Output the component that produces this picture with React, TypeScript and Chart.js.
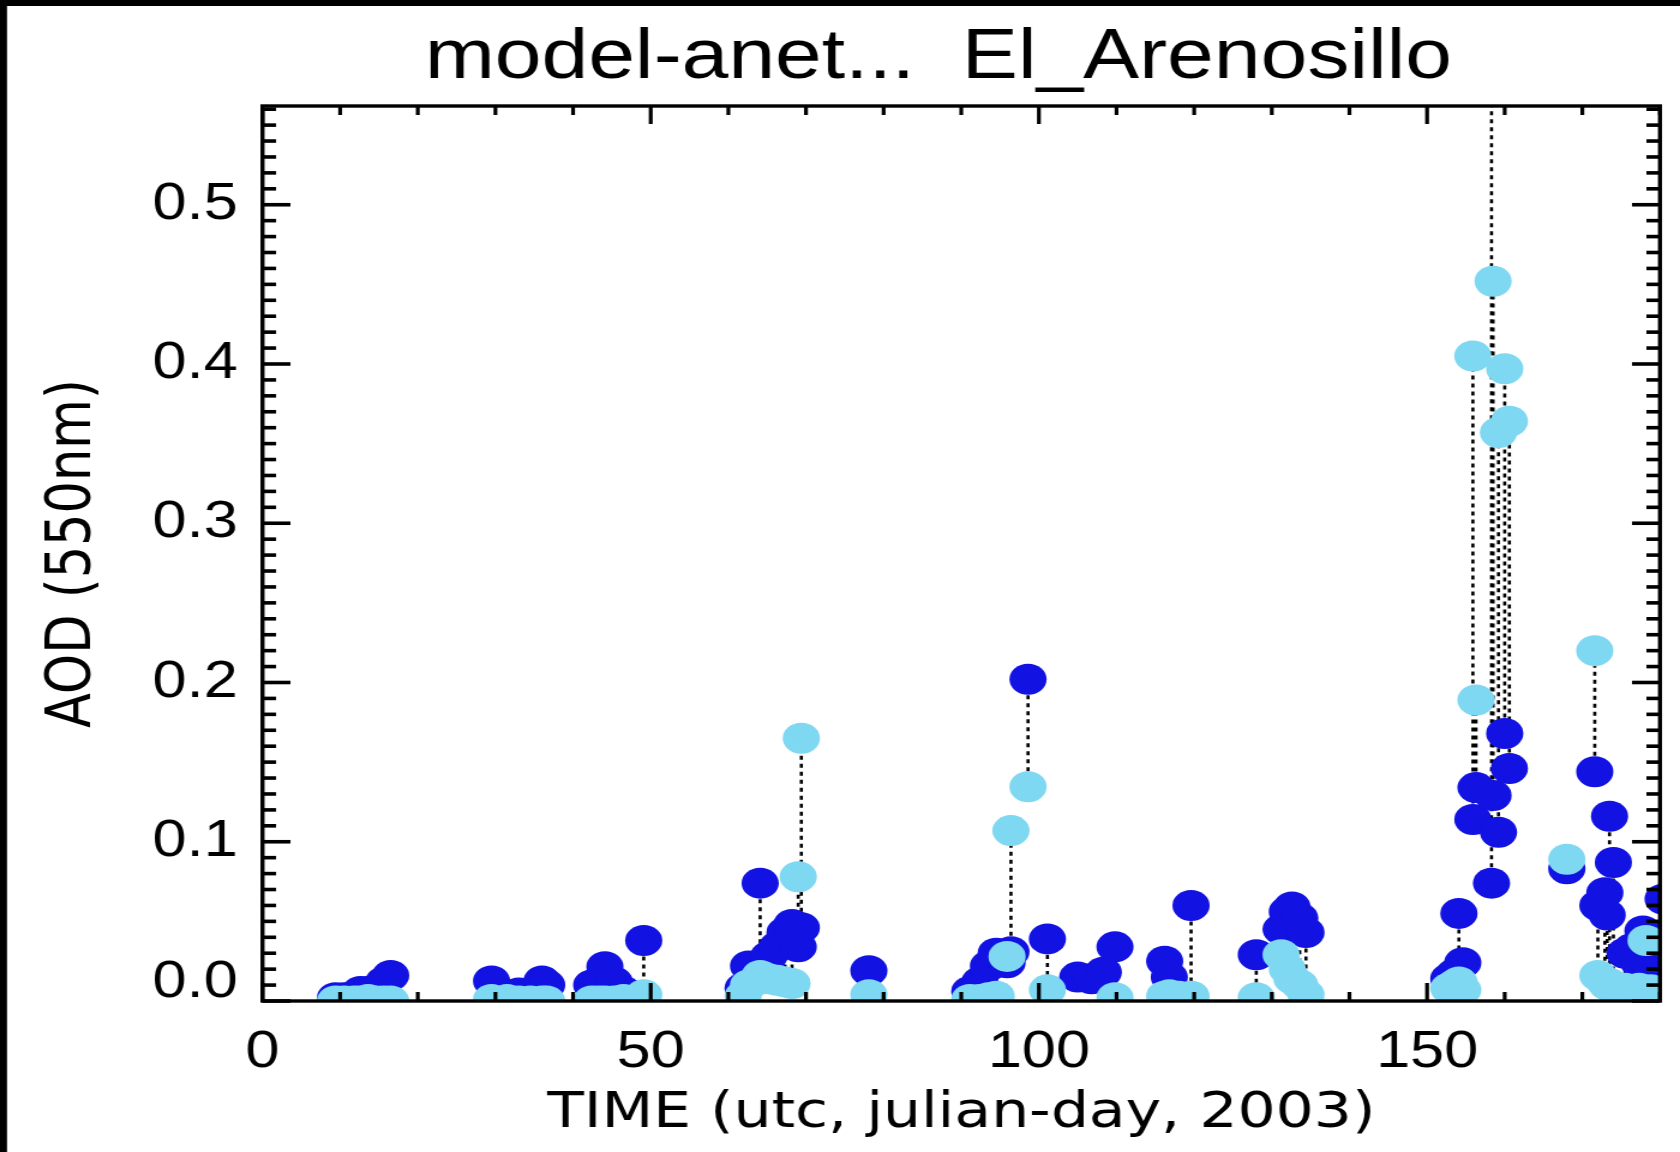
import React, { useEffect, useRef } from 'react';
import { Chart, registerables } from 'chart.js';

Chart.register(...registerables);

// ---------- text ----------
const TITLE = 'model-anet...  El_Arenosillo';
const X_TITLE = 'TIME (utc, julian-day, 2003)';
const Y_TITLE = 'AOD (550nm)';

// ---------- axes ----------
const X_MIN = 0;
const X_MAX = 180;
const Y_MIN = 0;
const Y_MAX = 0.562;
const X_TICKS = [0, 50, 100, 150];
const Y_TICKS = [0, 0.1, 0.2, 0.3, 0.4, 0.5];
const X_MINOR_STEP = 10;
const Y_MINOR_STEP = 0.01;

// ---------- data (julian day, model AOD, AERONET AOD) ----------
const DAYS = [
  9.4, 10.5, 11.8, 12.6, 13.6, 14.6, 15.6, 16.5,
  29.5, 31.5, 33.0, 34.5, 36.0, 36.6,
  42.4, 43.3, 44.1, 45.3, 46.5, 49.1,
  61.9, 62.6, 64.1, 65.2, 66.3, 67.3, 68.2, 69.0, 69.4,
  78.1,
  91.1, 92.4, 93.5, 94.5, 95.9, 96.4, 98.6, 101.1, 105.0, 106.8, 108.3, 109.8,
  116.2, 116.8, 118.0, 119.6,
  128.0, 131.2, 132.0, 132.6, 133.6, 134.4,
  152.8, 153.5, 154.1, 154.6, 155.9, 156.3, 158.3, 158.5, 159.2, 160.0, 160.6,
  168.0, 171.6, 172.0, 172.9, 173.2, 173.5, 174.0, 175.5, 176.4, 177.3, 177.8, 178.2, 178.8, 180.4,
];
const MODEL = [
  0.002, 0.002, 0.003, 0.006, 0.006, 0.007, 0.012, 0.016,
  0.0126, 0.004, 0.005, 0.004, 0.0126, 0.010,
  0.010, 0.012, 0.0215, 0.012, 0.006, 0.038,
  0.008, 0.022, 0.074, 0.028, 0.034, 0.043, 0.048, 0.034, 0.046,
  0.019,
  0.006, 0.012, 0.022, 0.030, 0.024, 0.031, 0.202, 0.039, 0.015, 0.014, 0.018, 0.034,
  0.025, 0.015, 0.004, 0.060,
  0.029, 0.045, 0.056, 0.059, 0.052, 0.043,
  0.014, 0.017, 0.055, 0.024, 0.114, 0.134, 0.074, 0.129, 0.106, 0.168, 0.146,
  0.083, 0.144, 0.060, 0.068, 0.054, 0.116, 0.087, 0.030, 0.033, 0.024, 0.044, 0.030, 0.018, 0.064,
];
const AERONET = [
  0.0, 0.0, 0.0, 0.0, 0.001, 0.0, 0.0, 0.0,
  0.001, 0.001, 0.0, 0.0, 0.0, 0.0,
  0.0, 0.0, 0.0, 0.0, 0.001, 0.004,
  0.003, 0.010, 0.016, 0.014, 0.013, 0.012, 0.011, 0.078, 0.165,
  0.004,
  0.001, 0.001, 0.002, 0.003, 0.028, 0.107, 0.1345, 0.007, null, null, null, 0.002,
  0.003, 0.004, 0.003, 0.003,
  0.002, 0.029, 0.020, 0.014, 0.010, 0.004,
  0.008, 0.010, 0.012, 0.007, 0.405, 0.189, 0.700, 0.452, 0.357, 0.397, 0.364,
  0.089, 0.220, 0.016, 0.012, 0.010, 0.011, 0.009, 0.008, 0.006, 0.008, null, 0.038, 0.007, null,
];

// ---------- style ----------
const FONT = '"Liberation Sans", Arial, Helvetica, sans-serif';
const TITLE_FONT = '"DejaVu Sans", "Liberation Sans", sans-serif';
const MODEL_COLOR = '#1212e2';
const AERONET_COLOR = '#7fd8f2';
const CANVAS_W = 1400; // drawn width, shown stretched to 1680
const CANVAS_H = 1152;
const SHOW_W = 1680;

const decorPlugin = {
  id: 'decor',
  beforeDraw(chart: any) {
    const { ctx, width, height } = chart;
    ctx.save();
    ctx.fillStyle = '#ffffff';
    ctx.fillRect(0, 0, width, height);
    ctx.fillStyle = '#000000';
    ctx.fillRect(0, 0, width, 6);
    ctx.fillRect(0, 0, 5.8, height);
    ctx.restore();
  },
  afterDatasetsDraw(chart: any) {
    const { ctx, chartArea: a } = chart;
    const xs = chart.scales.x;
    const ys = chart.scales.y;
    ctx.save();
    ctx.strokeStyle = '#000';
    ctx.lineCap = 'butt';
    const seg = (x1: number, y1: number, x2: number, y2: number) => {
      ctx.beginPath();
      ctx.moveTo(x1, y1);
      ctx.lineTo(x2, y2);
      ctx.stroke();
    };
    // x ticks (bottom and top, pointing inward)
    ctx.lineWidth = 3.2;
    const nx = Math.round((X_MAX - X_MIN) / X_MINOR_STEP);
    for (let i = 0; i <= nx; i++) {
      const v = X_MIN + i * X_MINOR_STEP;
      const px = xs.getPixelForValue(v);
      const major = X_TICKS.indexOf(v) >= 0;
      const len = major ? 18 : 9;
      seg(px, a.bottom, px, a.bottom - len);
      seg(px, a.top, px, a.top + len);
    }
    // y ticks (left and right, pointing inward)
    ctx.lineWidth = 3.6;
    const ny = Math.floor((Y_MAX - Y_MIN) / Y_MINOR_STEP + 1e-6);
    for (let i = 0; i <= ny; i++) {
      const v = Y_MIN + i * Y_MINOR_STEP;
      const py = ys.getPixelForValue(v);
      const major = i % 10 === 0;
      const len = major ? 23.3 : 11.3;
      seg(a.left, py, a.left + len, py);
      seg(a.right, py, a.right - len, py);
    }
    // frame
    ctx.lineWidth = 3.4;
    ctx.strokeRect(a.left, a.top, a.right - a.left, a.bottom - a.top);
    ctx.restore();
  },
  afterDraw(chart: any) {
    const { ctx } = chart;
    ctx.save();
    ctx.fillStyle = '#000';
    ctx.font = `70px ${FONT}`;
    ctx.textAlign = 'center';
    ctx.textBaseline = 'alphabetic';
    ctx.fillText(TITLE, 782, 78);
    ctx.restore();
  },
};

export default function App() {
  const ref = useRef<HTMLCanvasElement | null>(null);

  useEffect(() => {
    const canvas = ref.current;
    if (!canvas) return;
    document.documentElement.style.overflow = 'hidden';
    document.body.style.margin = '0';
    document.body.style.overflow = 'hidden';

    const modelPts = DAYS.map((d, i) => ({ x: d, y: MODEL[i] }));
    const anetPts = DAYS.map((d, i) => ({ x: d, y: AERONET[i] }));
    const links: { x: number; y: number | null }[] = [];
    DAYS.forEach((d, i) => {
      const m = MODEL[i];
      const a = AERONET[i];
      if (m !== null && a !== null && m !== a) {
        links.push({ x: d, y: m }, { x: d, y: a }, { x: d, y: null });
      }
    });

    const chart = new Chart(canvas, {
      type: 'scatter',
      data: {
        datasets: [
          {
            label: 'AERONET',
            data: anetPts as any,
            backgroundColor: AERONET_COLOR,
            pointBackgroundColor: AERONET_COLOR,
            pointRadius: 15.5,
            pointBorderWidth: 0,
            borderWidth: 0,
            order: 0,
            clip: 0,
          } as any,
          {
            label: 'model',
            data: modelPts as any,
            backgroundColor: MODEL_COLOR,
            pointBackgroundColor: MODEL_COLOR,
            pointRadius: 15.5,
            pointBorderWidth: 0,
            borderWidth: 0,
            order: 1,
            clip: 0,
          } as any,
          {
            type: 'line',
            label: 'link',
            data: links as any,
            borderColor: '#000',
            borderWidth: 2.6,
            borderDash: [4, 4],
            pointRadius: 0,
            showLine: true,
            spanGaps: false,
            fill: false,
            order: 2,
            clip: 0,
          } as any,
        ],
      },
      options: {
        responsive: false,
        maintainAspectRatio: false,
        devicePixelRatio: 1,
        animation: false,
        events: [],
        layout: { padding: { top: 106, right: 16.7, bottom: 0, left: 0 } },
        plugins: {
          legend: { display: false },
          tooltip: { enabled: false },
          title: { display: false },
        },
        scales: {
          x: {
            type: 'linear',
            position: 'bottom',
            min: X_MIN,
            max: X_MAX,
            grid: { display: false, drawTicks: false },
            border: { display: false },
            afterBuildTicks: (s: any) => {
              s.ticks = X_TICKS.map((v) => ({ value: v }));
            },
            afterFit: (s: any) => {
              s.height = CANVAS_H - 1001;
            },
            ticks: {
              color: '#000',
              font: { family: FONT, size: 51 },
              padding: 20.9,
              maxRotation: 0,
              minRotation: 0,
              autoSkip: false,
              callback: (v: any) => String(v),
            },
            title: {
              display: true,
              text: X_TITLE,
              color: '#000',
              font: { family: TITLE_FONT, size: 50 },
              padding: { top: 0, bottom: 8.3 },
            },
          },
          y: {
            type: 'linear',
            position: 'left',
            min: Y_MIN,
            max: Y_MAX,
            grid: { display: false, drawTicks: false },
            border: { display: false },
            afterBuildTicks: (s: any) => {
              s.ticks = Y_TICKS.map((v) => ({ value: v }));
            },
            afterFit: (s: any) => {
              s.width = 218.75;
            },
            ticks: {
              color: '#000',
              font: (c: any) => ({ family: FONT, size: 51, lineHeight: c.index === 0 ? 0.725 : 1.2 }),
              padding: 20.75,
              autoSkip: false,
              callback: (v: any, i: number) => (i === 0 ? [Number(v).toFixed(1), ''] : Number(v).toFixed(1)),
            },
            title: {
              display: true,
              text: Y_TITLE,
              color: '#000',
              font: { family: TITLE_FONT, size: 51 },
              padding: { top: 31.4, bottom: 0 },
            },
          },
        },
      } as any,
      plugins: [decorPlugin],
    });

    return () => {
      chart.destroy();
    };
  }, []);

  return (
    <div style={{ position: 'absolute', left: 0, top: 0, width: SHOW_W, height: CANVAS_H, background: '#fff' }}>
      <canvas
        ref={ref}
        width={CANVAS_W}
        height={CANVAS_H}
        style={{ width: SHOW_W + 'px', height: CANVAS_H + 'px', display: 'block' }}
      />
    </div>
  );
}
